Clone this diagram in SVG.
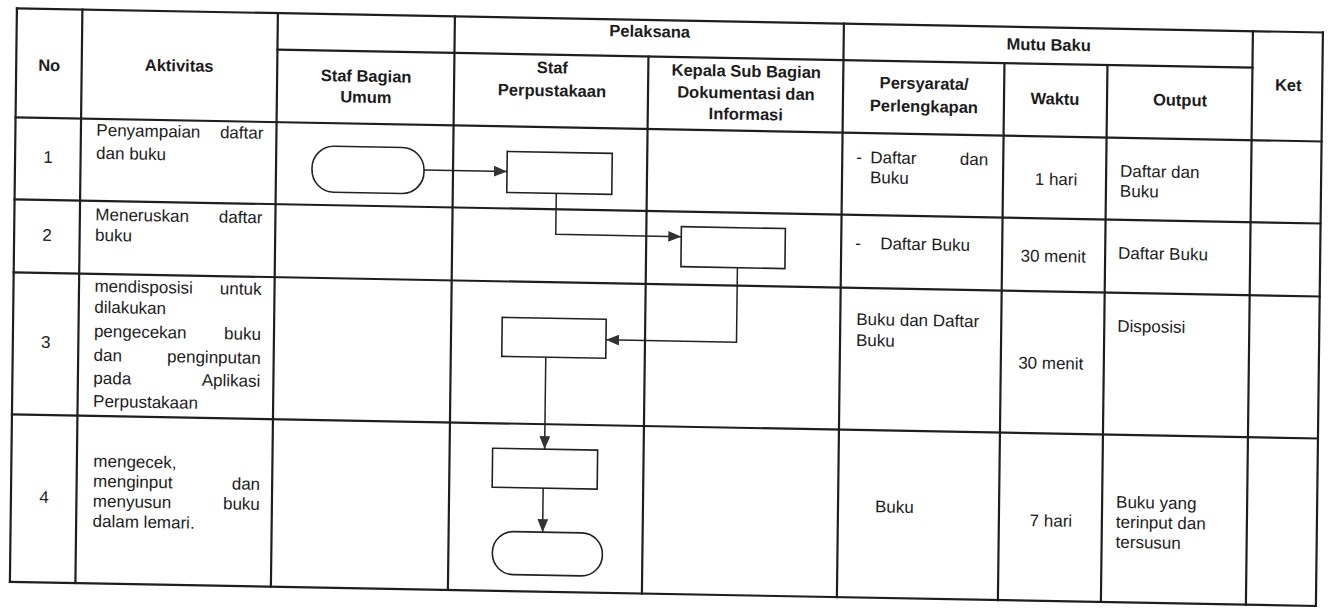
<svg xmlns="http://www.w3.org/2000/svg" width="1335" height="610" viewBox="0 0 1335 610">
<defs>
<style>
.g{stroke:#1e1e1e;stroke-width:2.2;fill:none;stroke-linecap:square}
.s{fill:none;stroke:#222;stroke-width:1.6}
.c{fill:none;stroke:#222;stroke-width:1.5}
text{font-family:"Liberation Sans",Arial,sans-serif;font-size:17px;fill:#1c1c1c}
.h{font-weight:bold;font-size:16.5px}
.m{text-anchor:middle}
</style>
<marker id="arr" viewBox="0 0 12 10" refX="12" refY="5" markerWidth="13" markerHeight="11" markerUnits="userSpaceOnUse" orient="auto">
<path d="M0,0 L12,5 L0,10 z" fill="#333"/>
</marker>
</defs>
<rect width="1335" height="610" fill="#fff"/>
<g transform="matrix(1 0.0185 -0.0122 1 0 0)">
<g id="table" class="g">
<line x1="17" y1="8" x2="1323" y2="8"/>
<line x1="278" y1="44.5" x2="1253" y2="44.5"/>
<line x1="17" y1="117" x2="1323" y2="117"/>
<line x1="17" y1="199" x2="1323" y2="199"/>
<line x1="17" y1="272" x2="1323" y2="272"/>
<line x1="17" y1="414" x2="1323" y2="414"/>
<line x1="17" y1="581.5" x2="1323" y2="581.5"/>
<line x1="17" y1="8" x2="17" y2="581.5"/>
<line x1="82.5" y1="8" x2="82.5" y2="581.5"/>
<line x1="278" y1="8" x2="278" y2="581.5"/>
<line x1="455" y1="8" x2="455" y2="581.5"/>
<line x1="649" y1="44.5" x2="649" y2="581.5"/>
<line x1="844" y1="8" x2="844" y2="581.5"/>
<line x1="1005" y1="44.5" x2="1005" y2="581.5"/>
<line x1="1108" y1="44.5" x2="1108" y2="581.5"/>
<line x1="1253" y1="8" x2="1253" y2="581.5"/>
<line x1="1323" y1="8" x2="1323" y2="581.5"/>
</g>
<g id="header">
<text class="h m" x="50" y="70">No</text>
<text class="h m" x="180" y="68">Aktivitas</text>
<text class="h m" x="367" y="75">Staf Bagian</text>
<text class="h m" x="367" y="96">Umum</text>
<text class="h m" x="650" y="25">Pelaksana</text>
<text class="h m" x="553" y="63">Staf</text>
<text class="h m" x="553" y="86">Perpustakaan</text>
<text class="h m" x="747" y="63">Kepala Sub Bagian</text>
<text class="h m" x="747" y="85">Dokumentasi dan</text>
<text class="h m" x="747" y="106">Informasi</text>
<text class="h m" x="1049" y="31">Mutu Baku</text>
<text class="h m" x="925" y="72">Persyarata/</text>
<text class="h m" x="925" y="95">Perlengkapan</text>
<text class="h m" x="1056" y="85">Waktu</text>
<text class="h m" x="1181" y="84">Output</text>
<text class="h m" x="1289" y="67">Ket</text>
</g>
<g id="row1">
<text class="m" x="50" y="162">1</text>
<text y="134"><tspan x="98">Penyampaian </tspan><tspan x="265" text-anchor="end">daftar</tspan></text>
<text x="98" y="157">dan buku</text>
<text y="147"><tspan x="858">- </tspan><tspan x="872">Daftar </tspan><tspan x="990" text-anchor="end">dan</tspan></text>
<text x="872" y="167">Buku</text>
<text class="m" x="1058" y="165.5">1 hari</text>
<text x="1122" y="156">Daftar dan</text>
<text x="1122" y="176">Buku</text>
</g>
<g id="row2">
<text class="m" x="50" y="240">2</text>
<text y="218.5"><tspan x="98">Meneruskan </tspan><tspan x="265" text-anchor="end">daftar</tspan></text>
<text x="98" y="239">buku</text>
<text y="233"><tspan x="858">- </tspan><tspan x="883">Daftar Buku</tspan></text>
<text class="m" x="1056" y="242.5">30 menit</text>
<text x="1121" y="238">Daftar Buku</text>
</g>
<g id="row3">
<text class="m" x="50" y="347">3</text>
<text y="290"><tspan x="98">mendisposisi </tspan><tspan x="265" text-anchor="end">untuk</tspan></text>
<text x="98" y="311">dilakukan</text>
<text y="335"><tspan x="98">pengecekan </tspan><tspan x="265" text-anchor="end">buku</tspan></text>
<text y="359"><tspan x="98">dan </tspan><tspan x="265" text-anchor="end">penginputan</tspan></text>
<text y="382"><tspan x="98">pada </tspan><tspan x="265" text-anchor="end">Aplikasi</tspan></text>
<text x="98" y="405">Perpustakaan</text>
<text x="860" y="309">Buku dan Daftar</text>
<text x="860" y="330">Buku</text>
<text class="m" x="1055" y="349.5">30 menit</text>
<text x="1121" y="311">Disposisi</text>
</g>
<g id="row4">
<text class="m" x="50" y="502">4</text>
<text x="99" y="465">mengecek,</text>
<text y="485"><tspan x="99">menginput </tspan><tspan x="266" text-anchor="end">dan</tspan></text>
<text y="505"><tspan x="99">menyusun </tspan><tspan x="266" text-anchor="end">buku</tspan></text>
<text x="99" y="525">dalam lemari.</text>
<text x="881" y="496">Buku</text>
<text class="m" x="1057" y="507">7 hari</text>
<text x="1122" y="487">Buku yang</text>
<text x="1122" y="507">terinput dan</text>
<text x="1122" y="527">tersusun</text>
</g>
<g id="connectors" class="c">
<path d="M426,162 L509,162" marker-end="url(#arr)"/>
<path d="M558.5,183 L558.5,224 L684,224" marker-end="url(#arr)"/>
<path d="M740.5,254 L740.5,328.5 L610,328.5" marker-end="url(#arr)"/>
<path d="M550,347 L550,439" marker-end="url(#arr)"/>
<path d="M549,478 L549,522" marker-end="url(#arr)"/>
</g>
<g id="start" class="s"><rect x="314" y="140" width="112" height="46" rx="22"/></g>
<g id="step1" class="s"><rect x="509" y="142" width="105" height="41"/></g>
<g id="step2" class="s"><rect x="684" y="214" width="104" height="40"/></g>
<g id="step3" class="s"><rect x="506" y="308" width="104" height="39"/></g>
<g id="step4" class="s"><rect x="498" y="439" width="105" height="39"/></g>
<g id="end" class="s"><rect x="499" y="522" width="110" height="43" rx="21"/></g>
</g>
</svg>
